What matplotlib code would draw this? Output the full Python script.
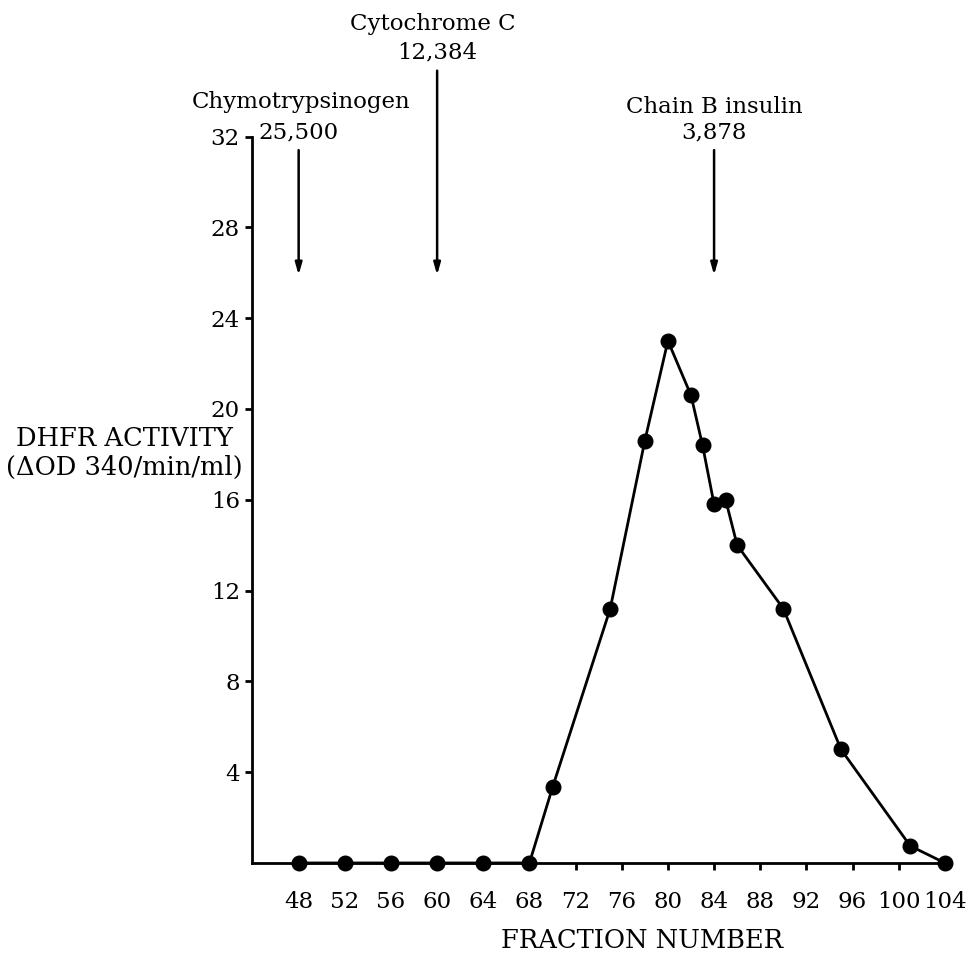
import matplotlib
matplotlib.use("Agg")
import matplotlib.pyplot as plt

# Gel-filtration elution profile of DHFR activity
fraction = [48, 52, 56, 60, 64, 68, 70, 75, 78, 80, 82, 83, 84, 85, 86, 90, 95, 101, 104]
activity = [0, 0, 0, 0, 0, 0, 3.33, 11.2, 18.6, 23.0, 20.6, 18.4, 15.8, 16.0, 14.0, 11.2, 5.0, 0.75, 0]

# Molecular-weight markers: name, MW label, elution fraction
marker_names = ["Chymotrypsinogen", "Cytochrome C", "Chain B insulin"]
marker_mw = ["25,500", "12,384", "3,878"]
marker_fraction = [48, 60, 84]

x_ticks = list(range(48, 105, 4))
y_ticks = list(range(4, 33, 4))

plt.rcParams["font.family"] = ["DejaVu Serif"]
FS = 16.5
FS_LABEL = 18.5

fig = plt.figure(figsize=(9.67, 9.58), dpi=100)
ax = fig.add_axes([0.2611, 0.0992, 0.7196, 0.7583])

ax.plot(fraction, activity, color="black", lw=2.0, marker="o", ms=10.5,
        markerfacecolor="black", markeredgecolor="black", clip_on=False, zorder=3)

ax.set_xlim(44, 104.3)
ax.set_ylim(0, 32)
ax.set_xticks(x_ticks)
ax.set_yticks(y_ticks)
ax.tick_params(axis="both", direction="out", length=5, width=2, labelsize=FS,
               colors="black")
ax.tick_params(axis="x", pad=15)
ax.tick_params(axis="y", pad=4)
for side in ["top", "right"]:
    ax.spines[side].set_visible(False)
for side in ["left", "bottom"]:
    ax.spines[side].set_linewidth(2)

# Arrows and labels for the calibration proteins
arrow_top = [31.4, 34.9, 31.4]
name_y = [33.5, 36.95, 33.3]
mw_y = [32.2, 35.7, 32.2]
name_dx = [0.2, -0.4, 0.0]
for name, mw, fx, top, ny, my, dx in zip(marker_names, marker_mw, marker_fraction,
                                         arrow_top, name_y, mw_y, name_dx):
    ax.annotate("", xy=(fx, 25.9), xytext=(fx, top), annotation_clip=False,
                arrowprops=dict(arrowstyle="-|>,head_length=0.7,head_width=0.2",
                                color="black", lw=1.8, shrinkA=0, shrinkB=0))
    ax.text(fx + dx, ny, name, ha="center", va="center", fontsize=FS, clip_on=False)
    ax.text(fx, my, mw, ha="center", va="center", fontsize=FS, clip_on=False)

fig.text(124 / 967, 1 - 438 / 958, "DHFR ACTIVITY", ha="center", va="center",
         fontsize=FS_LABEL)
fig.text(124 / 967, 1 - 467 / 958, "(\u0394OD 340/min/ml)", ha="center", va="center",
         fontsize=FS_LABEL)
fig.text(642 / 967, 1 - 941 / 958, "FRACTION NUMBER", ha="center", va="center",
         fontsize=FS_LABEL)

fig.savefig("out.png", dpi=100, facecolor="white")
